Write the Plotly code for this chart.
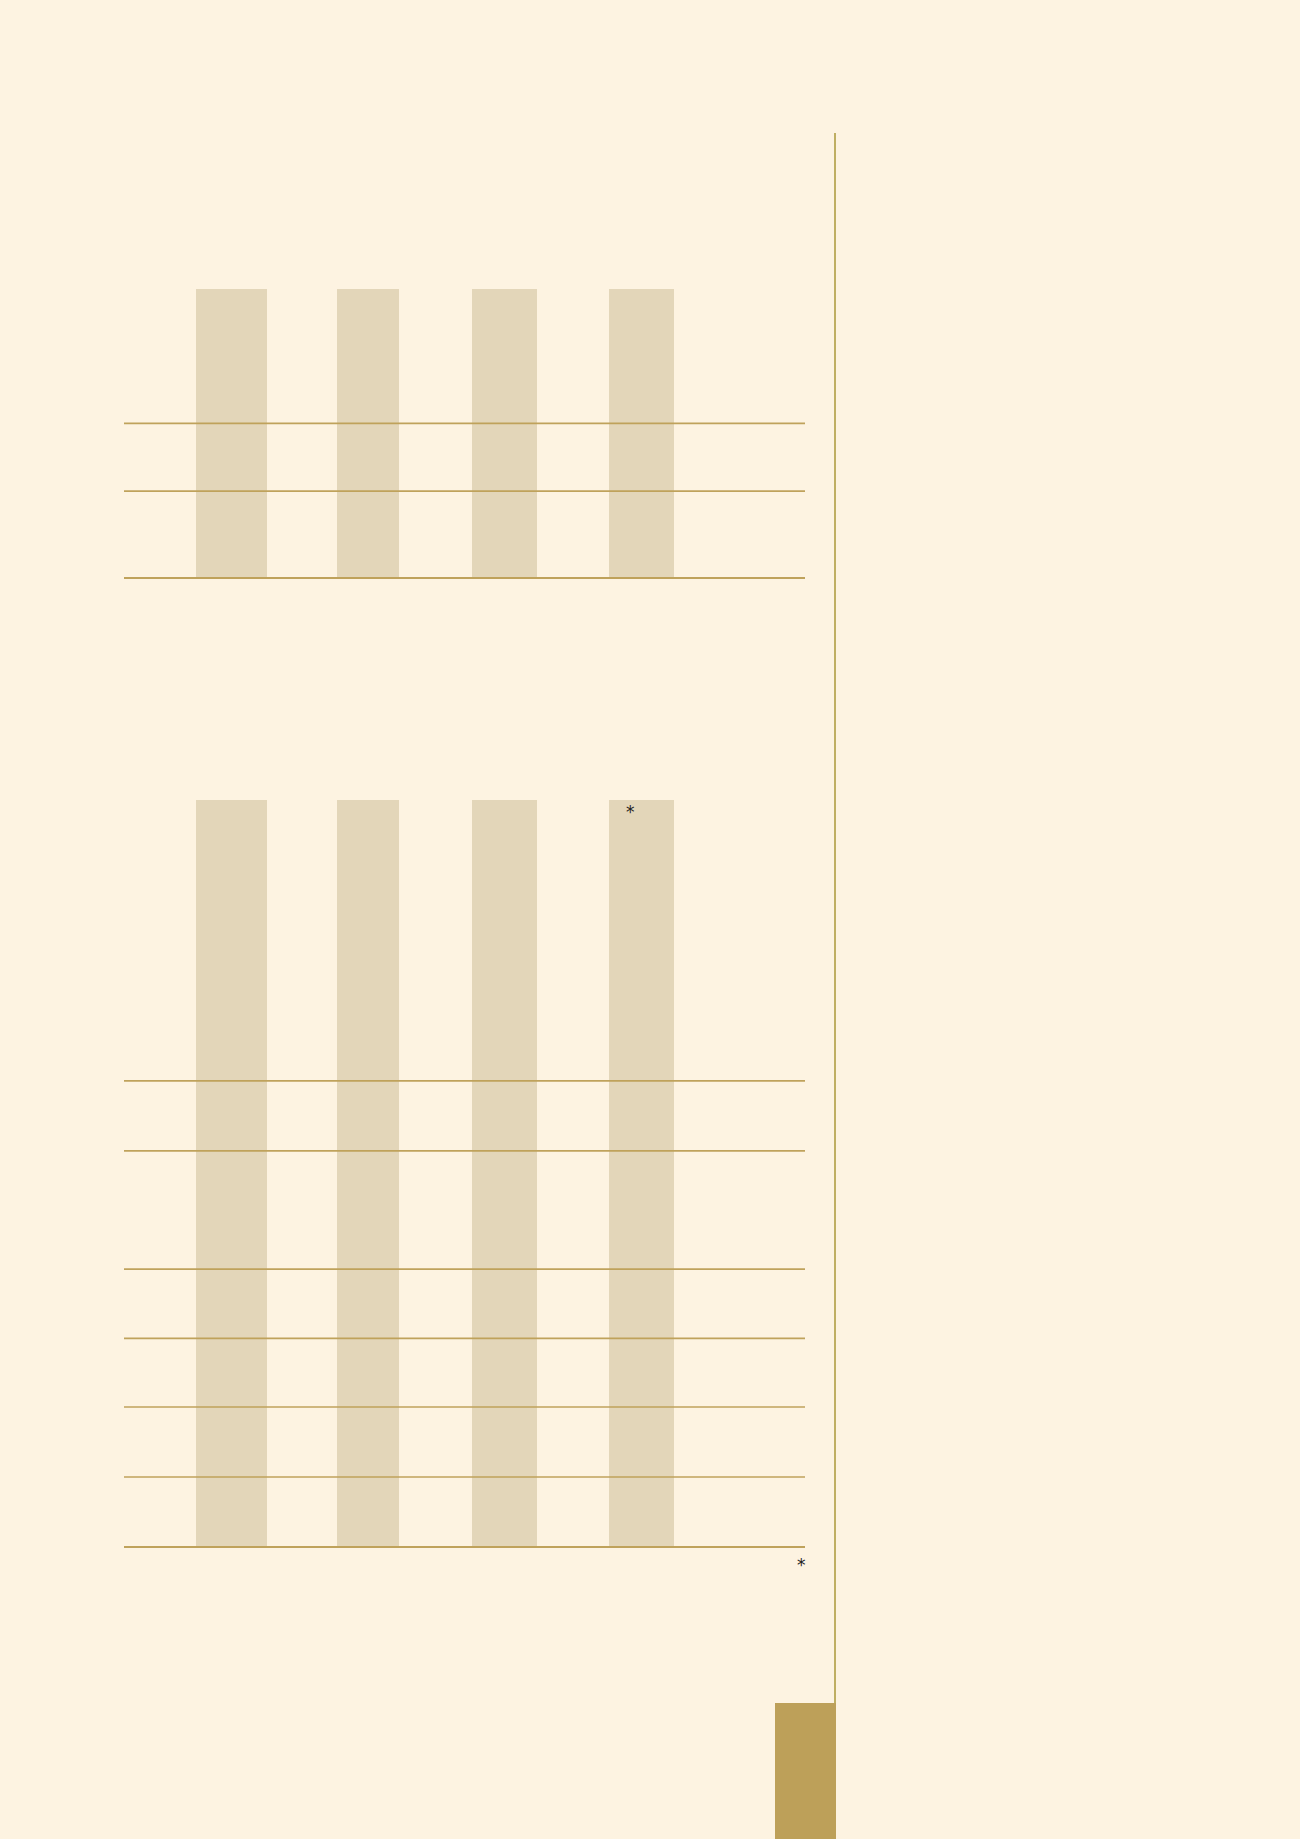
import plotly.graph_objects as go
from plotly.subplots import make_subplots

# four columns shared by both panels
columns = ['A', 'B', 'C', 'D']

# upper panel: column shading height and the row rules
top_bar_values = [4.13, 4.13, 4.13, 4.13]
top_rule_levels = [0, 1.24, 2.21]

# lower panel: column shading height and the row rules
low_bar_values = [10.67, 10.67, 10.67, 10.67]
low_rule_levels = [0, 1.0, 2.0, 2.98, 3.97, 5.66, 6.66]

bg_color = '#fdf3e1'
bar_color = '#e3d6b9'
rule_color = '#bfa25b'
accent_color = '#bda059'

W, H = 1300, 1839
L, R = 124, 495
px_per_unit = 70.0
bar_widths = [0.52, 0.45, 0.475, 0.475]


def fx(px):
    # page pixel -> paper x (paper spans the plot area only)
    return (px - L) / (W - L - R)


def fy(py):
    return 1 - py / H


fig = make_subplots(rows=2, cols=1, shared_xaxes=False)

fig.add_trace(go.Bar(x=columns, y=top_bar_values, marker=dict(color=bar_color, line=dict(width=0)),
                     width=bar_widths, hoverinfo='skip', showlegend=False), row=1, col=1)
fig.add_trace(go.Bar(x=columns, y=low_bar_values, marker=dict(color=bar_color, line=dict(width=0)),
                     width=bar_widths, hoverinfo='skip', showlegend=False), row=2, col=1)

# rules drawn on top of the bars, across the full plot width
for lvl in top_rule_levels:
    fig.add_shape(type='line', xref='x domain', yref='y', x0=0, x1=1, y0=lvl, y1=lvl,
                  line=dict(color=rule_color, width=2 if lvl == 0 else 1.7), layer='above')
for lvl in low_rule_levels:
    fig.add_shape(type='line', xref='x2 domain', yref='y2', x0=0, x1=1, y0=lvl, y1=lvl,
                  line=dict(color=rule_color, width=2 if lvl == 0 else 1.7), layer='above')

# decorative page elements
fig.add_shape(type='line', xref='paper', yref='paper', x0=fx(835), x1=fx(835), y0=fy(133), y1=0,
              line=dict(color='#bfae62', width=2))
fig.add_shape(type='rect', xref='paper', yref='paper', x0=fx(775), x1=fx(836), y0=fy(1703), y1=0,
              fillcolor=accent_color, line=dict(width=0))

star_font = dict(size=17, color='#222222', family='DejaVu Sans')
fig.add_annotation(x=fx(630), y=fy(812), xref='paper', yref='paper', text='*', showarrow=False,
                   xanchor='center', yanchor='middle', font=star_font)
fig.add_annotation(x=fx(801), y=fy(1565), xref='paper', yref='paper', text='*', showarrow=False,
                   xanchor='center', yanchor='middle', font=star_font)

pad = 0.1
top_base = 578
low_base = 1547
x_range = [-0.783, 4.194]

fig.update_layout(
    width=W, height=H,
    margin=dict(l=L, r=R, t=0, b=0),
    paper_bgcolor=bg_color, plot_bgcolor=bg_color,
    bargap=0,
    xaxis=dict(visible=False, range=x_range, domain=[0, 1]),
    xaxis2=dict(visible=False, range=x_range, domain=[0, 1]),
    yaxis=dict(visible=False, range=[-pad, top_bar_values[0]],
               domain=[fy(top_base + pad * px_per_unit), fy(top_base - top_bar_values[0] * px_per_unit)]),
    yaxis2=dict(visible=False, range=[-pad, low_bar_values[0]],
                domain=[fy(low_base + pad * px_per_unit), fy(low_base - low_bar_values[0] * px_per_unit)]),
)

fig.write_html('out.html', config={'displayModeBar': False},
               post_script="document.body.style.margin='0';")
